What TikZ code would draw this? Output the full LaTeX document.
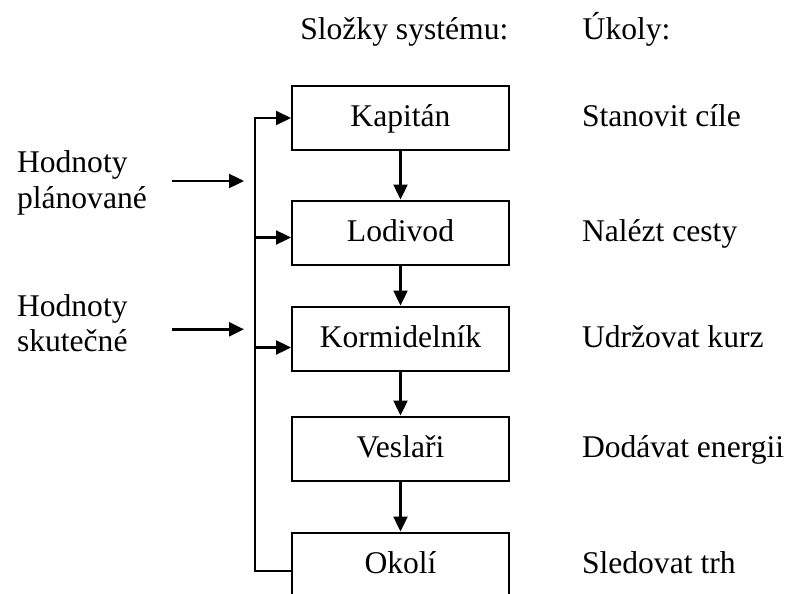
\documentclass[tikz,border=0pt]{standalone}
\usepackage{fontspec}
\setmainfont{Liberation Serif}
\usetikzlibrary{positioning,arrows.meta}

\begin{document}
\begin{tikzpicture}[x=1pt, y=-1pt, line width=2pt, font=\fontsize{31.6}{35.5}\selectfont,
main/.style = {draw, minimum width=217pt, minimum height=64pt, text height=22pt, text depth=4pt},
arr/.style = {-{Triangle[length=15pt,width=14pt]}, line width=2.4pt},
txt/.style = {inner sep=0pt, anchor=base west}]
\useasboundingbox (0,0) rectangle (788,594);
\node[main] (1) at (400.5,118) {Kapitán};
\node[main] (2) [below=48.5pt of 1] {Lodivod};
\node[main] (3) [below=40pt of 2] {Kormidelník};
\node[main] (4) [below=44pt of 3] {Veslaři};
\node[main] (5) [below=50pt of 4] {Okolí};
\node[txt] (h1) at (299.3,39.3) {Složky systému:};
\node[txt] (h2) at (581.7,39.3) {Úkoly:};
\coordinate (r) at (581,0);
\node[txt] (t1) at (1.base -| r) {Stanovit cíle};
\node[txt] (t2) at (2.base -| r) {Nalézt cesty};
\node[txt] (t3) at (3.base -| r) {Udržovat kurz};
\node[txt] (t4) at (4.base -| r) {Dodávat energii};
\node[txt] (t5) at (5.base -| r) {Sledovat trh};
\node[align=left, anchor=north west, inner sep=0pt] (p) at (16,150) {Hodnoty\\plánované};
\node[align=left, anchor=north west, inner sep=0pt] (s) at (16,293.5) {Hodnoty\\skutečné};
\coordinate (b1) at (254.7,118);
\coordinate (b2) at (254.7,237.5);
\coordinate (b3) at (254.7,347.5);
\coordinate (b5) at (254.7,570.7);
\coordinate (i1) at (171.7,181);
\coordinate (j1) at (244,181);
\coordinate (i2) at (171.7,329.3);
\coordinate (j2) at (244,329.3);
\draw[arr] (1) -- (2);
\draw[arr] (2) -- (3);
\draw[arr] (3) -- (4);
\draw[arr] (4) -- (5);
\draw[arr, line width=2pt] (b5 -| 5.west) -- (b5) -- (b1) -- (1.west);
\draw[arr] (b2) -- (b2 -| 2.west);
\draw[arr] (b3) -- (b3 -| 3.west);
\draw[arr] (i1) -- (j1);
\draw[arr] (i2) -- (j2);
\end{tikzpicture}
\end{document}
